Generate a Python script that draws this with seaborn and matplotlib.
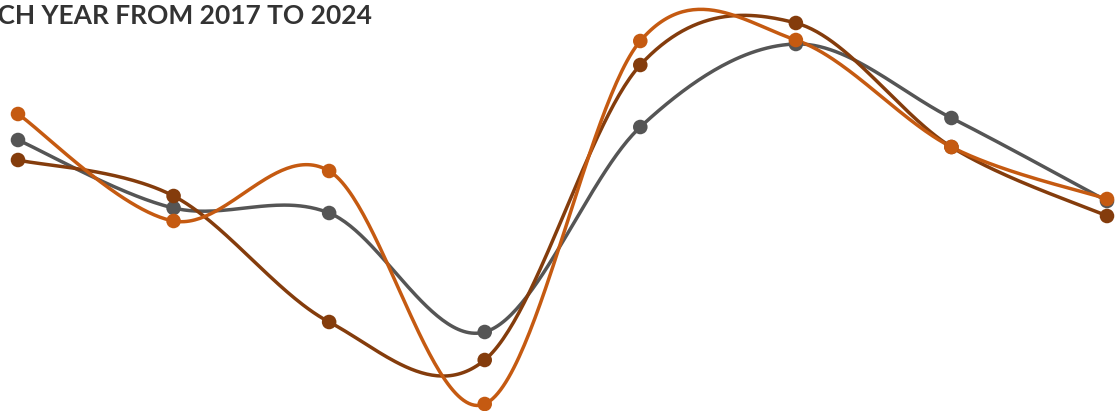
import numpy as np
import pandas as pd
import matplotlib
matplotlib.use("Agg")
import matplotlib.pyplot as plt
import seaborn as sns

# data (arbitrary units, no axis shown)
years = [2017, 2018, 2019, 2020, 2021, 2022, 2023, 2024]
series_names = ["Series A", "Series B", "Series C"]
series_a = [27.1, 20.3, 19.8, 7.9, 28.4, 36.7, 29.3, 21.0]
series_b = [25.1, 21.5, 8.9, 5.1, 34.6, 38.8, 26.4, 19.5]
series_c = [29.7, 19.0, 24.0, 0.7, 37.0, 37.1, 26.4, 21.2]
title = "EACH YEAR FROM 2017 TO 2024"

colors = {"Series A": "#555555", "Series B": "#843C0C", "Series C": "#C55A11"}


def cardinal(xs, ys, n=60):
    # cardinal spline (tension 0) like d3.curveCardinal
    px = np.asarray(xs, float)
    py = np.asarray(ys, float)
    px = np.concatenate([[px[0]], px, [px[-1]]])
    py = np.concatenate([[py[0]], py, [py[-1]]])
    outx, outy = [], []
    t = np.linspace(0, 1, n)
    for i in range(1, len(px) - 2):
        p0 = np.array([px[i], py[i]])
        p3 = np.array([px[i + 1], py[i + 1]])
        p1 = p0 + (np.array([px[i + 1], py[i + 1]]) - np.array([px[i - 1], py[i - 1]])) / 6
        p2 = p3 - (np.array([px[i + 2], py[i + 2]]) - np.array([px[i], py[i]])) / 6
        b = ((1 - t) ** 3)[:, None] * p0 + (3 * (1 - t) ** 2 * t)[:, None] * p1 \
            + (3 * (1 - t) * t ** 2)[:, None] * p2 + (t ** 3)[:, None] * p3
        outx.extend(b[:, 0])
        outy.extend(b[:, 1])
    return outx, outy


points = pd.DataFrame({
    "year": years * 3,
    "value": series_a + series_b + series_c,
    "series": np.repeat(series_names, len(years)),
})

curves = []
for name, vals in zip(series_names, [series_a, series_b, series_c]):
    cx, cy = cardinal(years, vals)
    curves.append(pd.DataFrame({"year": cx, "value": cy, "series": name,
                                "order": np.arange(len(cx))}))
curves = pd.concat(curves)

sns.set_style("white")
fig = plt.figure(figsize=(11.18, 4.11), dpi=100)
ax = fig.add_axes([0, 0, 1, 1])

for name in series_names:
    c = curves[curves["series"] == name]
    sns.lineplot(data=c, x="year", y="value", sort=False, estimator=None,
                 color=colors[name], linewidth=2.5, ax=ax)
    p = points[points["series"] == name]
    sns.scatterplot(data=p, x="year", y="value", color=colors[name],
                    s=110, edgecolor="none", ax=ax, zorder=3)

step = (1107 - 18) / 7
ax.set_xlim(2017 - 18 / step, 2024 + 11 / step)
ax.set_ylim(0, 41.1)
ax.axis("off")

fig.text(372 / 1118, 1 - 24 / 411, title, ha="right", va="baseline",
         fontsize=19, fontweight="bold", color="#333333", family=["Lato", "DejaVu Sans"])

fig.savefig("out.png", dpi=100)
